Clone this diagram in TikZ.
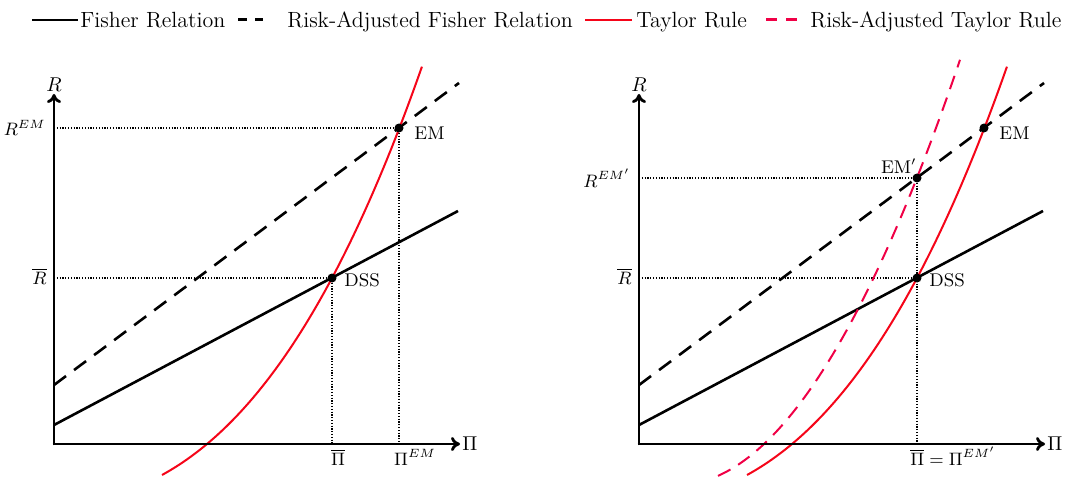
\documentclass[tikz,border=0pt]{standalone}
\usetikzlibrary{arrows.meta}
\definecolor{tred}{RGB}{245,5,25}
\definecolor{tpink}{RGB}{240,0,70}
\begin{document}
\begin{tikzpicture}[x=0.5pt,y=0.5pt,
  axis/.style={line width=1.4pt,-{To[length=4.5pt,width=7pt]}},
  fisher/.style={line width=1.3pt,black},
  rafisher/.style={line width=1.3pt,black,dash pattern=on 7.5pt off 5pt},
  taylor/.style={line width=1pt,tred},
  rataylor/.style={line width=1pt,tpink,dash pattern=on 7pt off 4.5pt},
  guide/.style={line width=0.6pt,dash pattern=on 0.6pt off 0.8pt},
  pt/.style={circle,fill=black,inner sep=0pt,minimum size=4.5pt},
  lbl/.style={font=\fontsize{9.2}{11}\selectfont,inner sep=1pt},
  axlbl/.style={font=\fontsize{10}{12}\selectfont,inner sep=1pt},
  leg/.style={font=\fontsize{11}{13}\selectfont,inner sep=0pt,anchor=base west}]
\useasboundingbox (0,0) rectangle (1070,477);

% ---------- legend ----------
\draw[fisher] (32,457) -- (78,457);
\node[leg] (lg1) at (80,449.6) {Fisher Relation};
\draw[fisher,line width=1.5pt] (238,457) -- (247,457);
\draw[fisher,line width=1.5pt] (255,457) -- (263,457);
\node[leg] (lg2) at (287,449.6) {Risk-Adjusted Fisher Relation};
\draw[taylor,line width=1.3pt] (585,457) -- (632,457);
\node[leg] (lg3) at (636,449.6) {Taylor Rule};
\draw[line width=1.5pt,tpink] (766,457) -- (777,457);
\draw[line width=1.5pt,tpink] (786,457) -- (797,457);
\node[leg] (lg4) at (810,449.6) {Risk-Adjusted Taylor Rule};

% ---------- left panel ----------
\begin{scope}[shift={(54,33)}]
  \coordinate (O1) at (0,0);
  \coordinate (X1) at (406,0);
  \coordinate (Y1) at (0,350);
  \coordinate (EM1) at (345,316);
  \coordinate (DSS1) at (278,166);
  \draw[guide] (0,316) -- (EM1) -- (345,0);
  \draw[guide] (0,166) -- (DSS1) -- (278,0);
  \draw[fisher] (0,19) -- (404,233);
  \draw[rafisher] (0,59) -- (405,361);
  \draw[taylor] plot[domain=-0.45:2.15,samples=90,smooth]
    ({153+100*\x},{83.66*\x+34.53*\x*\x+3.827*\x*\x*\x});
  \draw[axis] ([yshift=-0.7pt]O1) -- (Y1);
  \draw[axis] ([xshift=-0.7pt]O1) -- (X1);
  \node[axlbl,anchor=south] (R1) at (Y1) {$R$};
  \node[axlbl,anchor=west] (P1) at (X1) {$\Pi$};
  \node[pt] (em1) at (EM1) {};
  \node[pt] (dss1) at (DSS1) {};
  \node[lbl,anchor=west] (em1l) at (358,311) {EM};
  \node[lbl,anchor=west] (dss1l) at (288,164) {DSS};
  \node[lbl,anchor=east] (rem1) at (-6,316) {$R^{EM}$};
  \node[lbl,anchor=east] (rbar1) at (-5,168) {$\overline{R}$};
  \node[lbl,anchor=base] (pbar1) at (284,-21) {$\overline{\Pi}$};
  \node[lbl,anchor=base] (pem1) at (361,-21) {$\Pi^{EM}$};
\end{scope}

% ---------- right panel ----------
\begin{scope}[shift={(639,33)}]
  \coordinate (O2) at (0,0);
  \coordinate (X2) at (406,0);
  \coordinate (Y2) at (0,350);
  \coordinate (EM2) at (345,316);
  \coordinate (EMP) at (278,266);
  \coordinate (DSS2) at (278,166);
  \draw[guide] (0,266) -- (EMP) -- (278,0);
  \draw[guide] (0,166) -- (DSS2);
  \draw[fisher] (0,19) -- (404,233);
  \draw[rafisher] (0,59) -- (405,361);
  \draw[taylor] plot[domain=-0.45:2.15,samples=90,smooth]
    ({153+100*\x},{83.66*\x+34.53*\x*\x+3.827*\x*\x*\x});
  \draw[rataylor] plot[domain=-0.46:1.96,samples=90,smooth]
    ({125+100*\x},{93.9*\x+53.36*\x*\x-0.64*\x*\x*\x});
  \draw[axis] ([yshift=-0.7pt]O2) -- (Y2);
  \draw[axis] ([xshift=-0.7pt]O2) -- (X2);
  \node[axlbl,anchor=south] (R2) at (Y2) {$R$};
  \node[axlbl,anchor=west] (P2) at (X2) {$\Pi$};
  \node[pt] (em2) at (EM2) {};
  \node[pt] (emp) at (EMP) {};
  \node[pt] (dss2) at (DSS2) {};
  \node[lbl,anchor=west] (em2l) at (358,311) {EM};
  \node[lbl,anchor=east] (empl) at (280,278) {EM$'$};
  \node[lbl,anchor=west] (dss2l) at (288,164) {DSS};
  \node[lbl,anchor=east] (rem2) at (-6,266) {$R^{EM'}$};
  \node[lbl,anchor=east] (rbar2) at (-5,168) {$\overline{R}$};
  \node[lbl,anchor=base] (pbar2) at (314,-21) {$\overline{\Pi}=\Pi^{EM'}$};
\end{scope}
\end{tikzpicture}
\end{document}
